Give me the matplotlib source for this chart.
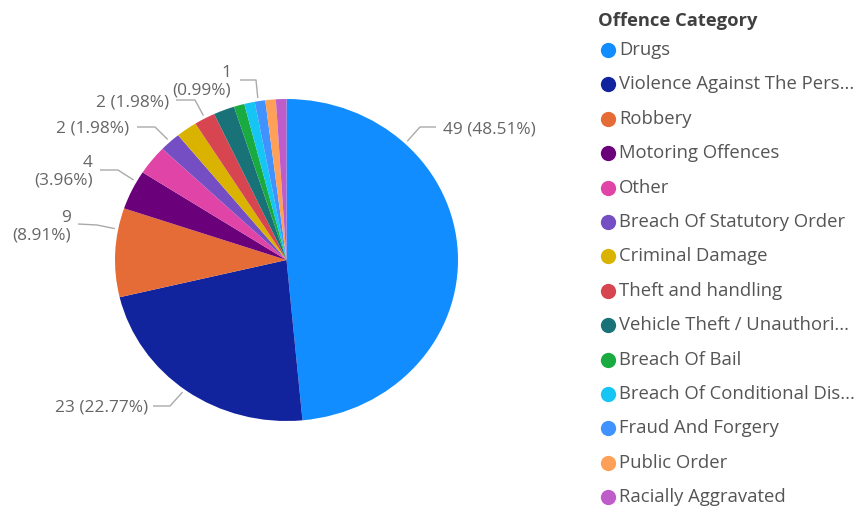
import matplotlib
matplotlib.use("Agg")
import matplotlib.pyplot as plt
import numpy as np

# ---- data -------------------------------------------------------------
categories = [
    "Drugs", "Violence Against The Person", "Robbery", "Motoring Offences",
    "Other", "Breach Of Statutory Order", "Criminal Damage",
    "Theft and handling", "Vehicle Theft / Unauthorised Taking",
    "Breach Of Bail", "Breach Of Conditional Discharge",
    "Fraud And Forgery", "Public Order", "Racially Aggravated",
]
legend_labels = [
    "Drugs", "Violence Against The Pers...", "Robbery", "Motoring Offences",
    "Other", "Breach Of Statutory Order", "Criminal Damage",
    "Theft and handling", "Vehicle Theft / Unauthori...", "Breach Of Bail",
    "Breach Of Conditional Dis...", "Fraud And Forgery", "Public Order",
    "Racially Aggravated",
]
counts = [49, 23, 9, 4, 3, 2, 2, 2, 2, 1, 1, 1, 1, 1]
colors = [
    "#118DFF", "#12239E", "#E66C37", "#6B007B", "#E044A7", "#744EC2",
    "#D9B300", "#D64550", "#197278", "#1AAB40", "#15C6F4", "#4092FF",
    "#FFA058", "#BE5DC9",
]
legend_title = "Offence Category"

FONT = ["Open Sans", "DejaVu Sans"]
LABEL_COLOR = "#666666"
LINE_COLOR = "#AAAAAA"

# ---- figure and pie ---------------------------------------------------
W, H = 856, 509
fig = plt.figure(figsize=(W / 100, H / 100), dpi=100)

cx, cy, rx, ry = 286.5, 260.0, 171.5, 161.0   # pie centre / radii in pixels
span = 1.3
ax = fig.add_axes([(cx - span * rx) / W, (H - cy - span * ry) / H,
                   2 * span * rx / W, 2 * span * ry / H])
wedges, _ = ax.pie(counts, colors=colors, startangle=90, counterclock=False,
                   wedgeprops=dict(linewidth=0))
ax.set_aspect("auto")
ax.set_xlim(-span, span)
ax.set_ylim(-span, span)

# overlay in pixel coordinates (origin top-left) for labels and legend
ov = fig.add_axes([0, 0, 1, 1])
ov.set_xlim(0, W)
ov.set_ylim(H, 0)
ov.axis("off")


def to_overlay(x, y):
    dx, dy = ax.transData.transform((x, y))
    return dx, H - dy


total = sum(counts)

# data labels: (slice index, position within wedge, elbow, line end,
#               text anchor, horizontal alignment, wrap onto two lines)
label_layout = [
    (0, 0.75, (420, 127), (436, 127), (443, 129), "left", False),
    (1, 0.49, (170, 406), (153, 406), (148, 408), "right", False),
    (2, 0.24, (97, 225), (78, 224), (71, 227), "right", True),
    (3, 0.27, (118, 170), (100, 170), (93, 172), "right", True),
    (5, 0.50, (155, 127), (137, 127), (129, 128), "right", False),
    (7, 0.48, (195, 100), (176, 100), (169, 102), "right", False),
    (11, 0.65, (256, 80), (240, 80), (231, 82), "right", True),
]

for idx, frac, elbow, end, tpos, ha, wrap in label_layout:
    w = wedges[idx]
    ang = np.deg2rad(w.theta1 + frac * (w.theta2 - w.theta1))
    r = 1.02
    px, py = to_overlay(r * np.cos(ang), r * np.sin(ang))
    ov.plot([px, elbow[0], end[0]], [py, elbow[1], end[1]],
            color=LINE_COLOR, lw=1.0, solid_capstyle="butt")
    pct = counts[idx] / total * 100
    sep = "\n" if wrap else " "
    ov.text(tpos[0], tpos[1], f"{counts[idx]}{sep}({pct:.2f}%)",
            ha=ha, va="center", fontsize=12.4, color=LABEL_COLOR,
            family=FONT, linespacing=1.12, multialignment="right")

# ---- legend -----------------------------------------------------------
ov.text(598, 21, legend_title, ha="left", va="center", fontsize=13.2,
        fontweight="bold", color="#404040", family=FONT)
row0, step = 50.0, 34.4
for i, (lab, col) in enumerate(zip(legend_labels, colors)):
    y = row0 + i * step
    ov.plot([608.5], [y], marker="o", markersize=11, color=col,
            markeredgewidth=0, linestyle="none")
    ov.text(619, y, lab, ha="left", va="center", fontsize=13.3,
            color="#555555", family=FONT)

fig.savefig("out.png", dpi=100)
